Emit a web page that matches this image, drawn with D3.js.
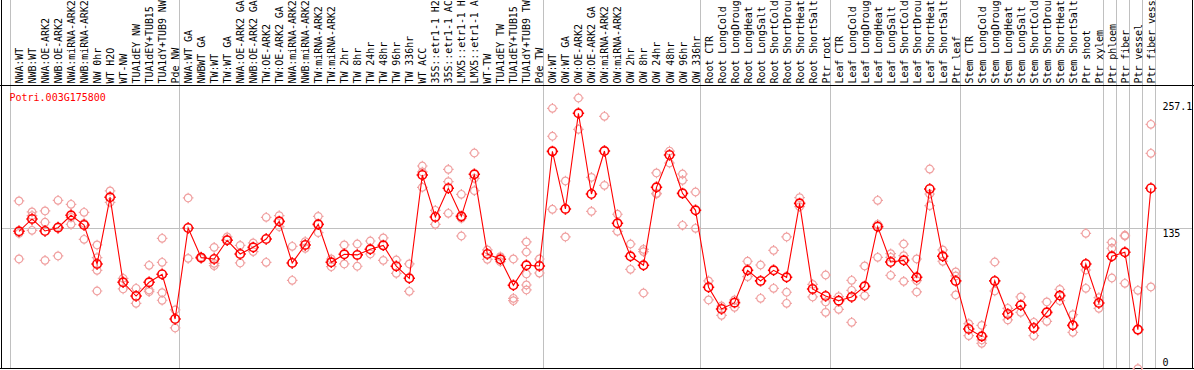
<!DOCTYPE html>
<html>
<head>
<meta charset="utf-8">
<script src="https://cdn.jsdelivr.net/npm/d3@7"></script>
<style>
    body { margin: 0; background: #fff; }
    svg { display: block; }
    text { font-family: "DejaVu Sans Mono", monospace; font-size: 10px; }
</style>
</head>
<body>
<script>
const geneId = "Potri.003G175800";

// sample names as printed (the header cuts them at 14 characters)
const categories = [
    "NWA:WT", "NWB:WT", "NWA:OE-ARK2", "NWB:OE-ARK2", "NWA:miRNA-ARK2", "NWB:miRNA-ARK2",
    "NW 0hr", "WT H2O", "WT-NW", "TUA1dEY NW", "TUA1dEY+TUB15", "TUA1dY+TUB9 NW", "Pde NW",
    "NWA:WT GA", "NWBWT GA", "TW:WT", "TW:WT GA", "NWA:OE-ARK2 GA", "NWB:OE-ARK2 GA",
    "TW:OE-ARK2", "TW:OE-ARK2 GA", "NWA:miRNA-ARK2", "NWB:miRNA-ARK2", "TW:miRNA-ARK2",
    "TW:miRNA-ARK2", "TW 2hr", "TW 8hr", "TW 24hr", "TW 48hr", "TW 96hr", "TW 336hr", "WT ACC",
    "35S::etr1-1 H2", "35S::etr1-1 AC", "LMX5::etr1-1 H", "LMX5::etr1-1 A", "WT-TW",
    "TUA1dEY TW", "TUA1dEY+TUB15", "TUA1dY+TUB9 TW", "Pde TW",
    "OW:WT", "OW:WT GA", "OW:OE-ARK2", "OW:OE-ARK2 GA", "OW:miRNA-ARK2", "OW:miRNA-ARK2",
    "OW 2hr", "OW 8hr", "OW 24hr", "OW 48hr", "OW 96hr", "OW 336hr",
    "Root CTR", "Root LongCold", "Root LongDroug", "Root LongHeat", "Root LongSalt",
    "Root ShortCold", "Root ShortDrou", "Root ShortHeat", "Root ShortSalt", "Ptr root",
    "Leaf CTR", "Leaf LongCold", "Leaf LongDroug", "Leaf LongHeat", "Leaf LongSalt",
    "Leaf ShortCold", "Leaf ShortDrou", "Leaf ShortHeat", "Leaf ShortSalt", "Ptr leaf",
    "Stem CTR", "Stem LongCold", "Stem LongDroug", "Stem LongHeat", "Stem LongSalt",
    "Stem ShortCold", "Stem ShortDrou", "Stem ShortHeat", "Stem ShortSalt", "Ptr shoot",
    "Ptr xylem", "Ptr phloem", "Ptr fiber", "Ptr vessel", "Ptr fiber vess"
];

// index of first sample in each block (last entry closes the chart)
const groupStarts = [0, 13, 41, 53, 63, 73, 84, 85, 86, 87, 88];

const means = [
    132.1, 144.0, 132.4, 135.6, 147.5, 138.2, 100.7, 164.8, 83.1, 69.9, 83.1, 90.8, 47.8,
    135.3, 106.8, 105.5, 123.5, 110.3, 116.7, 124.7, 141.7, 101.7, 119.0, 138.8, 102.3,
    110.0, 109.4, 114.8, 118.6, 98.5, 86.9, 186.3, 145.9, 173.5, 146.5, 186.9, 110.3,
    105.2, 80.2, 99.4, 98.8,
    209.0, 153.6, 245.6, 168.0, 209.3, 139.8, 108.1, 99.4, 174.4, 205.5, 168.6, 152.3,
    78.3, 57.4, 63.5, 94.6, 84.4, 94.6, 87.9, 159.0, 76.7, 69.9,
    65.4, 69.0, 79.2, 136.6, 102.6, 104.2, 87.9, 172.8, 108.1, 84.4,
    38.2, 31.1, 84.4, 52.6, 61.0, 39.2, 54.2, 70.3, 41.7, 100.7, 63.2,
    108.1, 111.9, 37.6, 173.5
];

const replicates = [
    [161.3, 130.2, 105.5], [150.7, 147.2, 133.1], [151.7, 140.8, 104.2], [161.9, 136.6, 108.4],
    [158.1, 145.6, 138.8], [150.4, 139.8, 124.4], [119.0, 106.8, 94.6, 74.7], [170.9, 160.0],
    [86.9, 76.7], [77.3, 62.9], [99.4, 75.7, 74.1], [125.4, 102.3, 73.1, 65.8], [56.5, 39.2],
    [164.2, 106.1], [106.0, 107.5], [116.7, 101.3, 99.1], [126.7, 123.8], [118.6, 101.7],
    [120.9, 112.6], [145.6, 102.3], [147.2, 136.6], [117.7, 85.0], [122.2, 115.8],
    [146.5, 130.8], [105.5, 98.1], [119.0, 100.7], [119.9, 98.5], [122.8, 110.3],
    [125.7, 104.2], [104.5, 91.7], [100.7, 74.4], [194.9, 189.2, 174.4], [152.3, 138.8],
    [191.7, 179.9, 149.4], [167.7, 144.6, 127.6], [207.4, 183.1, 171.2], [114.2, 105.2],
    [107.7, 102.9], [105.5, 67.7, 65.4], [121.9, 112.2, 91.1, 80.5, 75.7], [105.5, 92.0],
    [250.4, 223.5, 153.3], [180.5, 126.7], [260.3, 230.2], [184.0, 151.3], [242.7, 176.3],
    [148.5, 132.1], [119.9, 95.6], [114.8, 112.6, 72.8], [188.2, 168.6, 168.0],
    [209.3, 197.8], [187.2, 181.1, 137.9], [169.9, 135.0],
    [84.4, 66.1], [60.3, 51.3], [66.1, 59.0], [103.3, 88.5], [99.7, 67.7], [113.8, 77.3],
    [126.7, 73.5, 62.9], [164.5, 155.8], [81.1, 69.0], [90.1, 64.2, 54.2],
    [69.3, 57.1], [85.0, 75.4, 44.6], [98.8, 70.3], [161.9, 138.8, 107.1],
    [110.6, 107.1, 89.8], [119.9, 108.7, 84.0], [105.5, 84.7, 73.8], [192.0, 168.0, 156.8],
    [114.2, 103.3], [93.0, 89.2, 70.9],
    [43.3, 31.8], [41.7, 27.6, 24.4], [102.6, 74.7], [58.1, 46.9], [69.0, 54.2],
    [44.6, 31.8], [64.2, 45.6], [76.3, 65.4], [52.0, 35.0], [130.2, 94.9, 77.3],
    [68.3, 58.1],
    [121.5, 115.8, 87.2], [128.3, 127.6, 82.1], [75.4, 0.1], [235.0, 207.1, 78.6]
];

const yTicks = [0, 135, 257.1];
const gridValue = 135;

const width = 1194;
const height = 370;
const headerBottom = 85.5;
const plotBottom = 369;

const x = d3.scaleBand()
    .domain(d3.range(categories.length))
    .range([10, 10 + categories.length * 13.01]);
const xPos = (i) => x(i) + 9;

const y = d3.scaleLinear()
    .domain([0, 257.1])
    .range([368.7, 368.7 - 257.1 * 1.04]);

const crisp = (v) => Math.round(v) + 0.5;

const svg = d3.select("body")
    .append("svg")
    .attr("width", width)
    .attr("height", height);

// separators between sample blocks
svg.append("g")
    .selectAll("line")
    .data(groupStarts)
    .join("line")
    .attr("x1", (d) => crisp(d < categories.length ? x(d) : x(d - 1) + x.step()))
    .attr("x2", (d) => crisp(d < categories.length ? x(d) : x(d - 1) + x.step()))
    .attr("y1", 0)
    .attr("y2", plotBottom)
    .attr("stroke", "#c0c0c0")
    .attr("stroke-width", 1);

// grid line at 135
svg.append("line")
    .attr("x1", 1)
    .attr("x2", width - 1)
    .attr("y1", crisp(y(gridValue)))
    .attr("y2", crisp(y(gridValue)))
    .attr("stroke", "#c0c0c0");

// frame
svg.append("line")
    .attr("x1", 0).attr("x2", width)
    .attr("y1", headerBottom).attr("y2", headerBottom)
    .attr("stroke", "#000");
svg.append("line")
    .attr("x1", 0).attr("x2", width)
    .attr("y1", plotBottom - 0.5).attr("y2", plotBottom - 0.5)
    .attr("stroke", "#000");
svg.append("line")
    .attr("x1", 1.5).attr("x2", 1.5)
    .attr("y1", 0).attr("y2", plotBottom)
    .attr("stroke", "#000");
svg.append("line")
    .attr("x1", width - 1.5).attr("x2", width - 1.5)
    .attr("y1", 0).attr("y2", plotBottom)
    .attr("stroke", "#000");

// sample names, rotated
svg.append("g")
    .selectAll("text")
    .data(categories)
    .join("text")
    .attr("transform", (d, i) => `translate(${xPos(i) + 4},83.5) rotate(-90)`)
    .attr("letter-spacing", "-0.08px")
    .attr("fill", "#000")
    .text((d) => d);

// gene id
svg.append("text")
    .attr("x", 9.5)
    .attr("y", 101)
    .attr("fill", "#ff0000")
    .text(geneId);

// right-hand value labels
svg.append("g")
    .selectAll("text")
    .data(yTicks)
    .join("text")
    .attr("x", 1162.5)
    .attr("y", (d) => Math.min(y(d) + 9, 365.5))
    .attr("letter-spacing", "-0.1px")
    .attr("fill", "#000")
    .text((d) => d);

// ring with four small spurs, like the original plot symbol
function ring(r) {
    const p = d3.path();
    p.moveTo(r, 0);
    p.arc(0, 0, r, 0, Math.PI * 2);
    [[0, -1], [0, 1], [-1, 0], [1, 0]].forEach(([dx, dy]) => {
        p.moveTo(dx * r, dy * r);
        p.lineTo(dx * (r + 1.5), dy * (r + 1.5));
    });
    return p.toString();
}

// replicate samples
const repData = [];
replicates.forEach((vals, i) => vals.forEach((v) => repData.push({ i, v })));

svg.append("g")
    .selectAll("path")
    .data(repData)
    .join("path")
    .attr("transform", (d) => `translate(${xPos(d.i)},${y(d.v)})`)
    .attr("d", ring(3.8))
    .attr("fill", "none")
    .attr("stroke", "#f0a0a0")
    .attr("stroke-width", 1.2);

// mean line
const line = d3.line()
    .x((d, i) => xPos(i))
    .y((d) => y(d));

svg.append("path")
    .datum(means)
    .attr("d", line)
    .attr("fill", "none")
    .attr("stroke", "#ff0000")
    .attr("stroke-width", 1.1);

svg.append("g")
    .selectAll("path")
    .data(means)
    .join("path")
    .attr("transform", (d, i) => `translate(${xPos(i)},${y(d)})`)
    .attr("d", ring(4.2))
    .attr("fill", "none")
    .attr("stroke", "#ff0000")
    .attr("stroke-width", 1.6);
</script>
</body>
</html>
